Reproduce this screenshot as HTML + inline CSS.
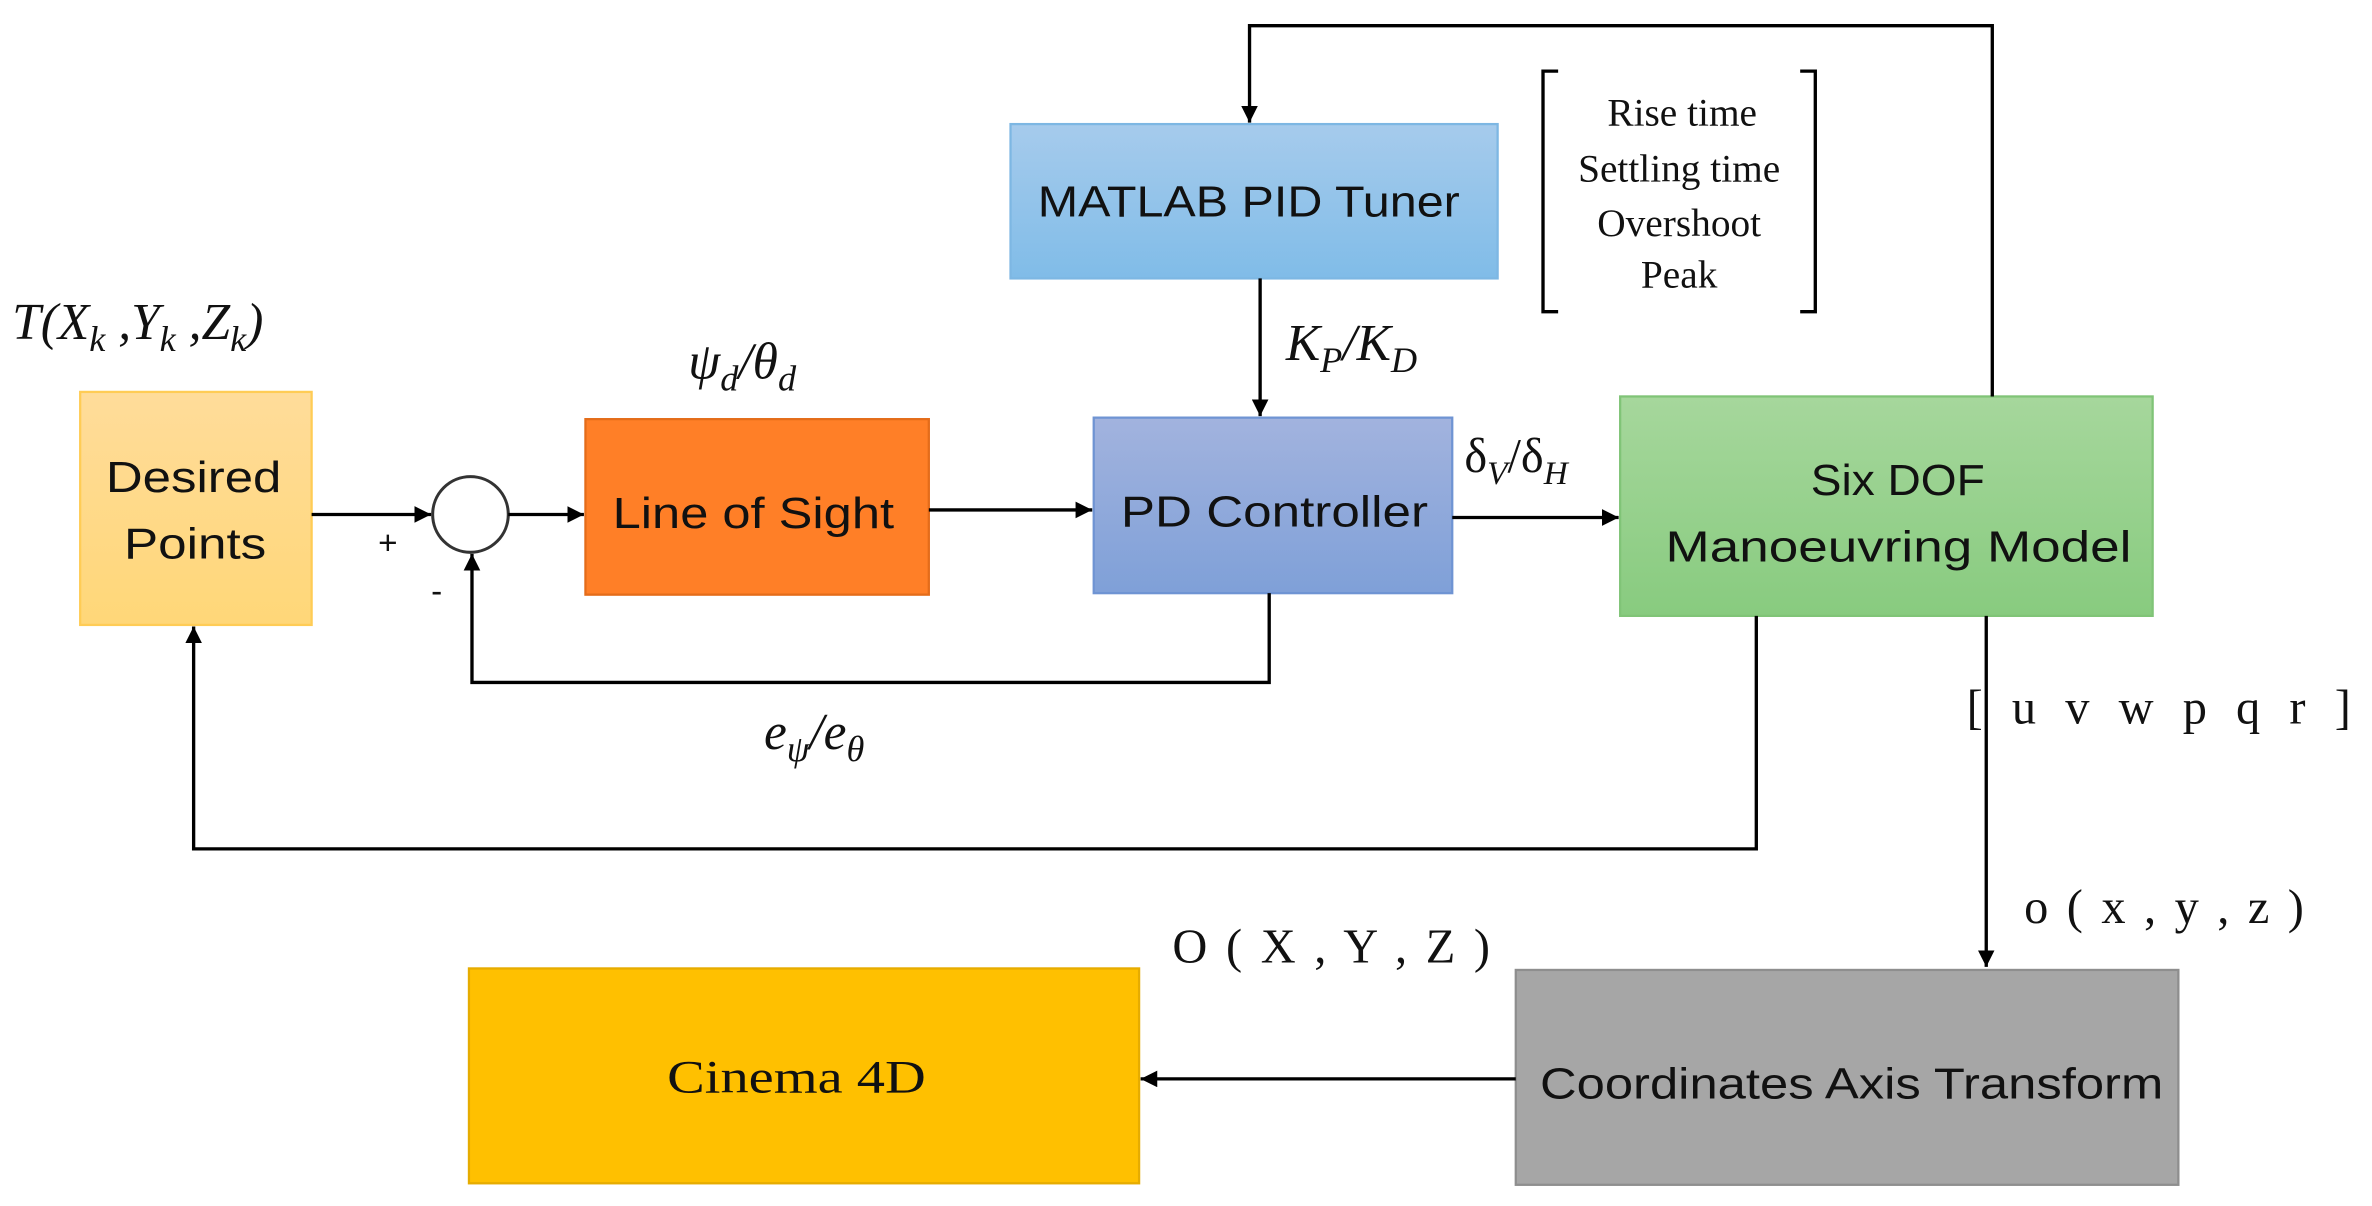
<!DOCTYPE html>
<html><head><meta charset="utf-8"><style>html,body{margin:0;padding:0;background:#fff}svg{display:block}</style></head>
<body>
<svg width="2372" height="1206" viewBox="0 0 1568 797" preserveAspectRatio="none" xmlns="http://www.w3.org/2000/svg">
<defs>
<marker id="a" viewBox="0 0 10 10" refX="10" refY="5" markerWidth="5" markerHeight="5" orient="auto"><path d="M0,0 L10,5 L0,10 z" fill="#000"/></marker>
<linearGradient id="gy" x1="0" y1="0" x2="0" y2="1"><stop offset="0" stop-color="#FFDC9A"/><stop offset="1" stop-color="#FFD778"/></linearGradient>
<linearGradient id="gb" x1="0" y1="0" x2="0" y2="1"><stop offset="0" stop-color="#A6CBEC"/><stop offset="1" stop-color="#80BCE8"/></linearGradient>
<linearGradient id="gp" x1="0" y1="0" x2="0" y2="1"><stop offset="0" stop-color="#A2B3DE"/><stop offset="1" stop-color="#7FA0D8"/></linearGradient>
<linearGradient id="gg" x1="0" y1="0" x2="0" y2="1"><stop offset="0" stop-color="#A6D79C"/><stop offset="1" stop-color="#88CB7F"/></linearGradient>
</defs>
<g font-family="Liberation Sans, sans-serif" font-size="29" fill="#111">
<rect x="53" y="259" width="153" height="154" fill="url(#gy)" stroke="#FFCC55" stroke-width="1.5"/>
<text x="70" y="325" textLength="116" lengthAdjust="spacingAndGlyphs">Desired</text>
<text x="82" y="369" textLength="94" lengthAdjust="spacingAndGlyphs">Points</text>
<rect x="387" y="277" width="227" height="116" fill="#FF7F27" stroke="#E46C1A" stroke-width="1.5"/>
<text x="405" y="349" textLength="186" lengthAdjust="spacingAndGlyphs">Line of Sight</text>
<rect x="723" y="276" width="237" height="116" fill="url(#gp)" stroke="#6F94D3" stroke-width="1.5"/>
<text x="741" y="348" textLength="203" lengthAdjust="spacingAndGlyphs">PD Controller</text>
<rect x="668" y="82" width="322" height="102" fill="url(#gb)" stroke="#7DB7E3" stroke-width="1.5"/>
<text x="686" y="143" textLength="279" lengthAdjust="spacingAndGlyphs">MATLAB PID Tuner</text>
<rect x="1071" y="262" width="352" height="145" fill="url(#gg)" stroke="#80C477" stroke-width="1.5"/>
<text x="1197" y="327" textLength="115" lengthAdjust="spacingAndGlyphs">Six DOF</text>
<text x="1101" y="371" textLength="308" lengthAdjust="spacingAndGlyphs">Manoeuvring Model</text>
<rect x="1002" y="641" width="438" height="142" fill="#A6A6A6" stroke="#8E8E8E" stroke-width="1.5"/>
<text x="1018" y="726" textLength="412" lengthAdjust="spacingAndGlyphs">Coordinates Axis Transform</text>
<rect x="310" y="640" width="443" height="142" fill="#FFC000" stroke="#E6AC00" stroke-width="1.5"/>
<text x="441" y="722" font-family="Liberation Serif, serif" font-size="31" textLength="171" lengthAdjust="spacingAndGlyphs">Cinema 4D</text>
</g>
<circle cx="311" cy="340" r="25" fill="#fff" stroke="#333" stroke-width="2"/>
<g stroke="#000" stroke-width="2.2" fill="none">
<path d="M206,340 H285" marker-end="url(#a)"/>
<path d="M336,340 H386" marker-end="url(#a)"/>
<path d="M614,337 H722" marker-end="url(#a)"/>
<path d="M960,342 H1070" marker-end="url(#a)"/>
<path d="M833,184 V275" marker-end="url(#a)"/>
<path d="M1317,262 V17 H826 V81" marker-end="url(#a)"/>
<path d="M839,392 V451 H312 V366" marker-end="url(#a)"/>
<path d="M1161,407 V561 H128 V414" marker-end="url(#a)"/>
<path d="M1313,407 V639" marker-end="url(#a)"/>
<path d="M1002,713 H754" marker-end="url(#a)"/>
<path d="M1030,47 H1020 V206 H1030 M1190,47 H1200 V206 H1190"/>
</g>
<g font-family="Liberation Serif, serif" fill="#111">
<g font-size="26" text-anchor="middle">
<text x="1112" y="83">Rise time</text>
<text x="1110" y="120">Settling time</text>
<text x="1110" y="156">Overshoot</text>
<text x="1110" y="190">Peak</text>
</g>
<g font-style="italic" font-size="34">
<text x="8" y="224">T(X<tspan font-size="24" dy="8">k</tspan><tspan dy="-8"> ,Y</tspan><tspan font-size="24" dy="8">k</tspan><tspan dy="-8"> ,Z</tspan><tspan font-size="24" dy="8">k</tspan><tspan dy="-8">)</tspan></text>
<text x="455" y="250">ψ<tspan font-size="24" dy="8">d</tspan><tspan dy="-8">/θ</tspan><tspan font-size="24" dy="8">d</tspan></text>
<text x="850" y="238">K<tspan font-size="24" dy="8">P</tspan><tspan dy="-8">/K</tspan><tspan font-size="24" dy="8">D</tspan></text>
<text x="505" y="495">e<tspan font-size="24" dy="8">ψ</tspan><tspan dy="-8">/e</tspan><tspan font-size="24" dy="8">θ</tspan></text>
</g>
<text x="968" y="312" font-size="32">δ<tspan font-size="22" font-style="italic" dy="8">V</tspan><tspan dy="-8">/δ</tspan><tspan font-size="22" font-style="italic" dy="8">H</tspan></text>
<text x="1300" y="478" font-size="32" textLength="254" lengthAdjust="spacing">[ u v w p q r ]</text>
<text x="1338" y="610" font-size="32" textLength="185" lengthAdjust="spacing">o ( x , y , z )</text>
<text x="775" y="636" font-size="32" textLength="210" lengthAdjust="spacing">O ( X , Y , Z )</text>
</g>
<g font-family="Liberation Sans, sans-serif" font-size="22" fill="#111">
<text x="250" y="366">+</text>
<text x="285" y="398">-</text>
</g>
</svg>
</body></html>
